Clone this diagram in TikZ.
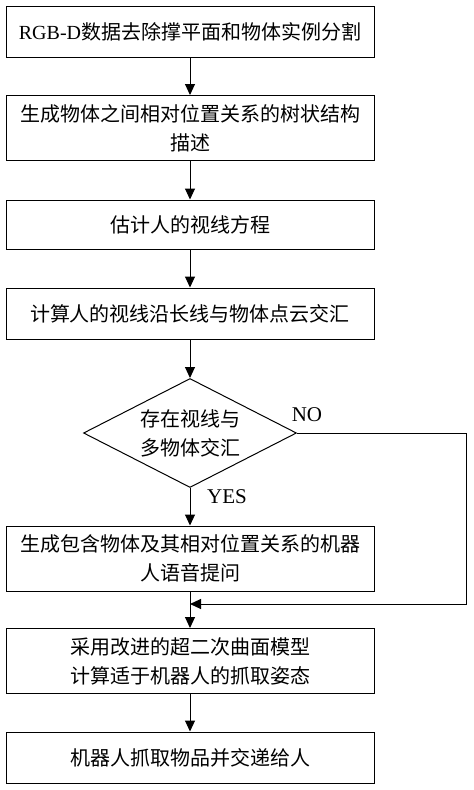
\documentclass[tikz,border=0pt]{standalone}
\usepackage{fontspec}
\setmainfont{Liberation Serif}
\newfontfamily\cjk{Noto Sans CJK SC}
\usetikzlibrary{shapes.geometric,arrows.meta}

\begin{document}
\begin{tikzpicture}[x=1pt, y=-1pt, line width=1pt,
    box/.style={rectangle, draw, minimum width=368pt, minimum height=51pt, align=center, inner sep=4pt, font=\fontsize{20}{29}\selectfont\cjk},
    tall/.style={box, minimum height=65pt},
    choice/.style={diamond, draw, aspect=2, inner sep=0pt, minimum width=213pt, minimum height=109pt, align=center, font=\fontsize{20}{29}\selectfont\cjk},
    lbl/.style={font=\fontsize{21}{24}\selectfont},
    go/.style={-{Triangle[length=11pt,width=10pt]}}]
    \useasboundingbox (0,0) rectangle (474,790);

    \node (S1) at (190, 31.5) [box] {{\rmfamily RGB-D}数据去除撑平面和物体实例分割};
    \node (S2) at (190, 128) [tall] {生成物体之间相对位置关系的树状结构\\描述};
    \node (S3) at (190, 224.5) [box, minimum height=49pt] {估计人的视线方程};
    \node (S4) at (190, 313.5) [box] {计算人的视线沿长线与物体点云交汇};
    \node (D) at (190, 433) [choice] {存在视线与\\多物体交汇};
    \node (S5) at (190, 558.5) [tall] {生成包含物体及其相对位置关系的机器\\人语音提问};
    \node (S6) at (190, 661) [tall] {采用改进的超二次曲面模型\\计算适于机器人的抓取姿态};
    \node (S7) at (190, 757.5) [box] {机器人抓取物品并交递给人};

    \node (NO) at (307, 415) [lbl] {NO};
    \node (YES) at (227, 497) [lbl] {YES};

    \coordinate (C1) at (466, 433);
    \coordinate (C2) at (466, 604);
    \coordinate (M) at (190, 604);

    %-----

    \draw (S1) edge[go] (S2);
    \draw (S2) edge[go] (S3);
    \draw (S3) edge[go] (S4);
    \draw (S4) edge[go] (D);
    \draw (D) edge[go] (S5);
    \draw (S5) edge[go] (S6);
    \draw (S6) edge[go] (S7);
    \draw[go] (D.east) -- (C1) -- (C2) -- (M);
\end{tikzpicture}
\end{document}
